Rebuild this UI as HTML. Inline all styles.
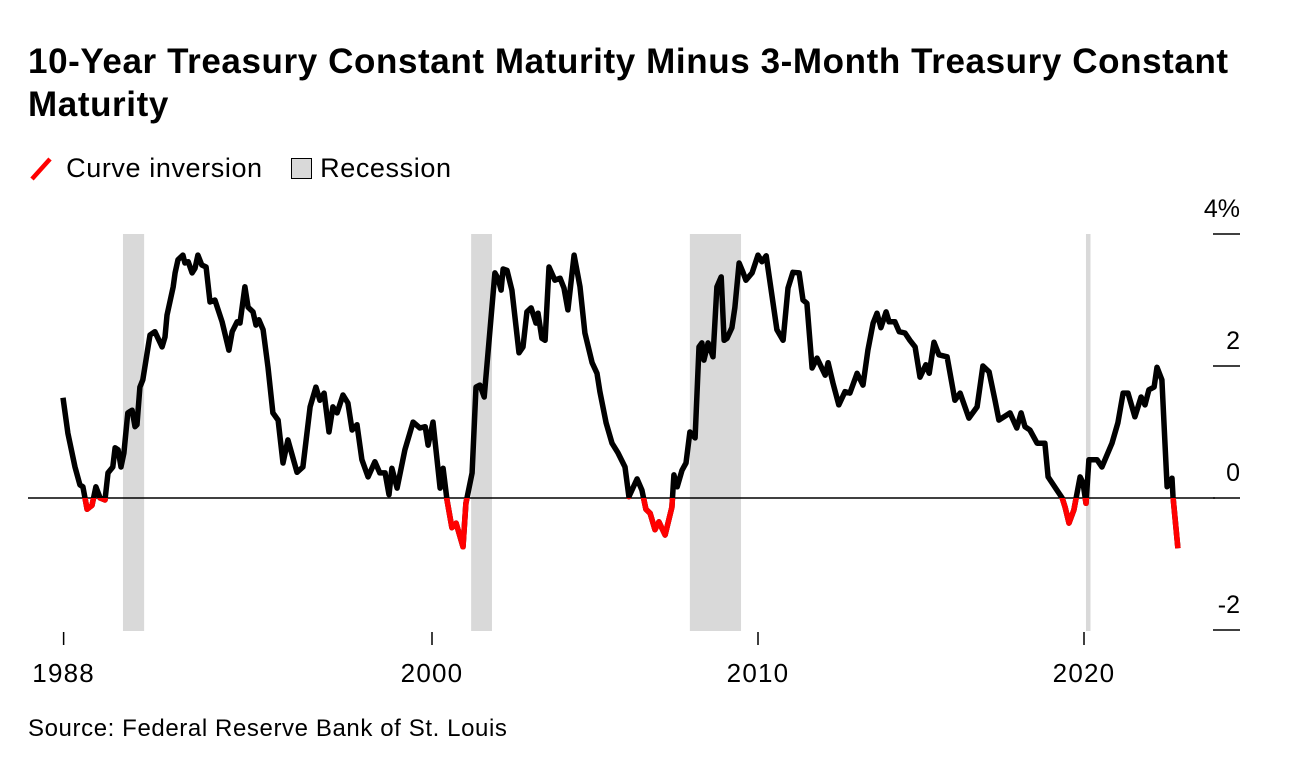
<!DOCTYPE html>
<html><head><meta charset="utf-8"><style>
body{margin:0;background:#fff;font-family:"Liberation Sans",sans-serif;}
#wrap{position:relative;width:1296px;height:770px;overflow:hidden;}
h1{position:absolute;left:28px;top:40px;margin:0;font-size:35px;line-height:43px;font-weight:bold;letter-spacing:0.6px;color:#000;width:1250px;}
.legend{position:absolute;top:153px;font-size:27px;letter-spacing:0.6px;color:#000;}
.src{position:absolute;left:28px;top:715px;font-size:24px;letter-spacing:0.6px;color:#000;}
</style></head><body>
<div id="wrap">
<h1>10-Year Treasury Constant Maturity Minus 3-Month Treasury Constant Maturity</h1>
<div class="legend" style="left:28px"><svg width="30" height="26" style="vertical-align:-4px"><line x1="4" y1="24" x2="22" y2="4" stroke="#f00" stroke-width="4.5"/></svg> Curve inversion</div>
<div class="legend" style="left:291px"><span style="display:inline-block;width:19px;height:19px;background:#d9d9d9;border:1.5px solid #000;vertical-align:-2px"></span> Recession</div>
<svg id="chart" width="1296" height="770" style="position:absolute;left:0;top:0"></svg>
<div class="src">Source: Federal Reserve Bank of St. Louis</div>
</div>
<script>
const years=[1988.68,1988.83,1989.05,1989.2,1989.29,1989.42,1989.57,1989.69,1989.82,1989.97,1990.06,1990.21,1990.28,1990.37,1990.46,1990.55,1990.67,1990.8,1990.89,1990.95,1991.04,1991.13,1991.35,1991.5,1991.72,1991.81,1991.87,1992.06,1992.12,1992.21,1992.36,1992.42,1992.52,1992.64,1992.73,1992.82,1992.94,1993.07,1993.19,1993.34,1993.56,1993.77,1993.87,1994.02,1994.11,1994.26,1994.36,1994.51,1994.6,1994.69,1994.82,1994.97,1995.12,1995.28,1995.43,1995.58,1995.86,1996.04,1996.26,1996.44,1996.56,1996.69,1996.84,1996.96,1997.09,1997.27,1997.42,1997.55,1997.7,1997.85,1998.04,1998.25,1998.4,1998.56,1998.68,1998.77,1998.93,1999.17,1999.42,1999.63,1999.79,1999.88,2000.03,2000.25,2000.34,2000.46,2000.61,2000.74,2000.95,2001.04,2001.23,2001.35,2001.47,2001.6,2001.78,2001.93,2002.02,2002.12,2002.18,2002.3,2002.45,2002.67,2002.79,2002.91,2003.04,2003.19,2003.25,2003.37,2003.47,2003.59,2003.77,2003.93,2004.05,2004.17,2004.36,2004.54,2004.69,2004.91,2005.06,2005.15,2005.34,2005.52,2005.71,2005.92,2006.04,2006.29,2006.44,2006.56,2006.69,2006.84,2006.96,2007.15,2007.36,2007.42,2007.52,2007.67,2007.79,2007.91,2008.07,2008.19,2008.28,2008.34,2008.47,2008.62,2008.74,2008.87,2008.96,2009.05,2009.2,2009.29,2009.42,2009.54,2009.63,2009.82,2010.0,2010.12,2010.25,2010.37,2010.58,2010.77,2010.92,2011.07,2011.26,2011.38,2011.5,2011.66,2011.81,2012.06,2012.15,2012.3,2012.48,2012.67,2012.82,2013.04,2013.22,2013.37,2013.53,2013.65,2013.77,2013.93,2014.02,2014.2,2014.33,2014.51,2014.66,2014.82,2014.97,2015.15,2015.25,2015.4,2015.55,2015.8,2016.04,2016.2,2016.47,2016.72,2016.9,2017.09,2017.27,2017.39,2017.73,2017.94,2018.07,2018.19,2018.34,2018.56,2018.8,2018.9,2019.17,2019.33,2019.42,2019.54,2019.69,2019.88,2019.97,2020.06,2020.15,2020.4,2020.55,2020.86,2021.04,2021.2,2021.35,2021.56,2021.75,2021.87,2021.99,2022.15,2022.24,2022.39,2022.48,2022.55,2022.7,2022.73,2022.88];
const spread=[1.52,0.98,0.47,0.2,0.17,-0.17,-0.11,0.17,0,-0.03,0.38,0.47,0.76,0.73,0.47,0.68,1.29,1.33,1.08,1.11,1.68,1.79,2.47,2.52,2.29,2.44,2.77,3.2,3.41,3.61,3.68,3.56,3.58,3.41,3.48,3.68,3.53,3.5,2.97,3.0,2.67,2.24,2.52,2.67,2.65,3.2,2.89,2.82,2.62,2.7,2.55,1.98,1.29,1.18,0.53,0.88,0.39,0.47,1.38,1.68,1.48,1.59,1.0,1.38,1.29,1.56,1.44,1.03,1.11,0.58,0.32,0.55,0.38,0.38,0.05,0.45,0.15,0.73,1.15,1.06,1.08,0.8,1.15,0.15,0.45,-0.03,-0.45,-0.38,-0.74,-0.08,0.38,1.68,1.71,1.53,2.55,3.41,3.33,3.15,3.47,3.45,3.15,2.2,2.29,2.82,2.88,2.65,2.8,2.42,2.39,3.5,3.3,3.33,3.18,2.85,3.68,3.2,2.5,2.05,1.89,1.61,1.14,0.83,0.68,0.47,0.02,0.29,0.12,-0.17,-0.23,-0.48,-0.36,-0.56,-0.14,0.35,0.17,0.42,0.53,1.0,0.91,2.29,2.35,2.09,2.35,2.14,3.2,3.35,2.39,2.42,2.58,2.89,3.56,3.42,3.3,3.41,3.68,3.58,3.67,3.26,2.55,2.39,3.18,3.42,3.41,3.0,2.95,1.97,2.12,1.86,2.05,1.74,1.41,1.61,1.59,1.89,1.71,2.24,2.65,2.8,2.58,2.82,2.67,2.67,2.52,2.5,2.39,2.29,1.83,2.02,1.89,2.36,2.17,2.14,1.48,1.59,1.21,1.38,2.0,1.91,1.48,1.18,1.29,1.06,1.29,1.08,1.03,0.83,0.83,0.32,0.12,0,-0.14,-0.38,-0.18,0.32,0.23,-0.08,0.58,0.58,0.47,0.83,1.14,1.59,1.59,1.23,1.53,1.41,1.64,1.68,1.98,1.79,0.88,0.17,0.3,0.02,-0.76];
const recStart=[1990.52,2001.2,2007.91,2020.06];
const recEnd=[1991.17,2001.84,2009.48,2020.2];
const yTicks=[4,2,0,-2];
const yTickLabels=["4%","2","0","-2"];
const xTicks=[1988.7,2000,2010,2020];
const xTickLabels=["1988","2000","2010","2020"];

const NS="http://www.w3.org/2000/svg";
const svg=document.getElementById('chart');
const X=v=>432+(v-2000)*32.6;
const Y=v=>498-v*66;
function mk(t,a){const e=document.createElementNS(NS,t);for(const k in a)e.setAttribute(k,a[k]);return e;}
recStart.forEach((s,i)=>{
 const r=mk('rect',{x:X(s),y:234,width:X(recEnd[i])-X(s),height:397,fill:'#d9d9d9'});
 
 
 svg.appendChild(r);
});
const zl=mk('line',{x1:28,x2:1215,y1:Y(0),y2:Y(0),stroke:'#000','stroke-width':1.5});


svg.appendChild(zl);
yTicks.forEach((t,i)=>{
 const l=mk('line',{x1:1213,x2:1240,y1:Y(t),y2:Y(t),stroke:'#000','stroke-width':1.5});
 
 
 svg.appendChild(l);
 const tx=mk('text',{x:1240,y:Y(t)-17,'text-anchor':'end','font-size':25,'font-family':'Liberation Sans, sans-serif'});
 tx.textContent=yTickLabels[i];
 
 
 svg.appendChild(tx);
});
xTicks.forEach((t,i)=>{
 const l=mk('line',{x1:X(t),x2:X(t),y1:632,y2:645,stroke:'#000','stroke-width':1.5});
 
 
 svg.appendChild(l);
 const tx=mk('text',{x:X(t),y:682,'text-anchor':'middle','font-size':26,'letter-spacing':1.2,'font-family':'Liberation Sans, sans-serif'});
 tx.textContent=xTickLabels[i];
 
 
 svg.appendChild(tx);
});
const defs=mk('defs',{});
const cp=mk('clipPath',{id:'below'});cp.appendChild(mk('rect',{x:0,y:Y(0),width:1296,height:300}));
defs.appendChild(cp);svg.appendChild(defs);
const d=years.map((yr,i)=>(i?'L':'M')+X(yr).toFixed(1)+','+Y(spread[i]).toFixed(1)).join('');
const line=mk('path',{d:d,fill:'none',stroke:'#000','stroke-width':5.5,'stroke-linejoin':'round'});


svg.appendChild(line);
const red=mk('path',{d:d,fill:'none',stroke:'#f00','stroke-width':5.5,'stroke-linejoin':'round','clip-path':'url(#below)'});


svg.appendChild(red);
</script>
</body></html>
